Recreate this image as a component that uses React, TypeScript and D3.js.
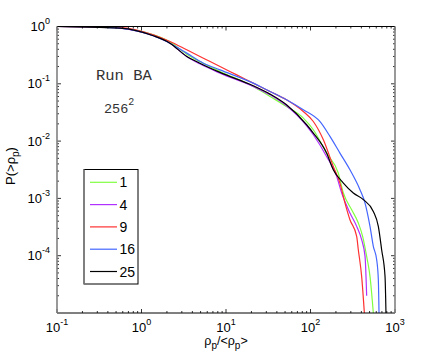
import * as d3 from 'd3'

const W = 436
const H = 354
const margin = { top: 26.5, right: 41, bottom: 41, left: 57 }

const xTicks = [0.1, 1, 10, 100, 1000]
const xTickExps = ['-1', '0', '1', '2', '3']
const yTicks = [1, 0.1, 0.01, 0.001, 0.0001]
const yTickExps = ['0', '-1', '-2', '-3', '-4']

const runNames = ['1', '4', '9', '16', '25']
const runColors = ['#80ff40', '#b030ff', '#ff3030', '#4466ff', '#000000']

// run 1
const x1 = [0.1, 0.32, 0.557, 1.38, 2.17, 3.43, 4.9, 8.49, 21, 33.2, 52, 82.2, 108, 155, 213, 245, 307, 368, 414, 462, 506, 554]
const y1 = [1, 0.99, 0.948, 0.716, 0.54, 0.329, 0.245, 0.164, 0.0898, 0.0601, 0.0402, 0.0252, 0.01577, 0.00618, 0.00277, 0.00124, 0.000634, 0.000372, 0.000217, 0.0000973, 0.0000436, 0.00001]
// run 4
const x4 = [0.1, 0.32, 0.557, 1.38, 2.17, 3.43, 4.9, 8.49, 21, 33.2, 52, 90, 108, 155, 204, 234, 293, 352, 403, 442, 462]
const y4 = [1, 0.98, 0.935, 0.688, 0.512, 0.3, 0.223, 0.1535, 0.0898, 0.0643, 0.0413, 0.0185, 0.0129, 0.0054, 0.00242, 0.00124, 0.000555, 0.000325, 0.00019, 0.0000973, 0.00002]
// run 9
const x9 = [0.1, 0.32, 0.557, 1.38, 2.17, 3.43, 5.4, 8.49, 13.4, 21, 33.2, 52, 82.2, 108, 142, 186, 223, 256, 293, 352, 368, 403, 434]
const y9 = [1, 0.97, 0.96, 0.716, 0.547, 0.392, 0.28, 0.2, 0.143, 0.1027, 0.0733, 0.0526, 0.0329, 0.022, 0.01055, 0.00361, 0.00185, 0.00083, 0.000425, 0.000217, 0.000127, 0.0000436, 0.00001]
// run 16
const x16 = [0.1, 0.32, 0.557, 1.38, 2.17, 3.43, 5.4, 8.49, 21, 33.2, 52, 82.2, 129, 170, 223, 293, 385, 442, 506, 554, 607, 635, 647]
const y16 = [1, 0.97, 0.935, 0.688, 0.512, 0.343, 0.229, 0.175, 0.1027, 0.0735, 0.0526, 0.0352, 0.022, 0.01206, 0.00618, 0.00316, 0.00142, 0.00083, 0.000325, 0.000146, 0.0000851, 0.0000381, 0.00001]
// run 25
const x25 = [0.1, 0.32, 0.557, 1.38, 2.17, 3.43, 4.9, 8.49, 21, 33.2, 52, 90, 108, 155, 186, 245, 321, 422, 554, 635, 695, 762, 782]
const y25 = [1, 0.96, 0.935, 0.688, 0.512, 0.3, 0.229, 0.158, 0.0923, 0.066, 0.043, 0.0193, 0.0138, 0.00618, 0.00316, 0.00185, 0.00124, 0.00095, 0.000593, 0.000325, 0.000127, 0.0000436, 0.00001]

const runsX = [x1, x4, x9, x16, x25]
const runsY = [y1, y4, y9, y16, y25]

const App = () => {
  const x = d3.scaleLog().domain([0.1, 1000]).range([margin.left, W - margin.right])
  const y = d3.scaleLog().domain([1e-5, 1]).range([H - margin.bottom, margin.top])

  const line = d3.line<[number, number]>()
    .x((d) => x(d[0]))
    .y((d) => y(d[1]))
    .curve(d3.curveMonotoneX)

  const x0 = margin.left
  const x1p = W - margin.right
  const y0 = margin.top
  const y1p = H - margin.bottom

  // minor ticks 2..9 within each decade
  const minorX: number[] = []
  for (let e = -1; e < 3; e++) for (let k = 2; k < 10; k++) minorX.push(k * Math.pow(10, e))
  const minorY: number[] = []
  for (let e = -5; e < 0; e++) for (let k = 2; k < 10; k++) minorY.push(k * Math.pow(10, e))

  const font = '"Liberation Sans", Arial, sans-serif'
  const mono = '"Liberation Mono", "Courier New", monospace'

  return (
    <svg width={W} height={H} style={{ position: 'absolute', left: 0, top: 0, background: '#fff' }}>
      <rect x={0} y={0} width={W} height={H} fill="#fff" />

      <defs>
        <clipPath id="plotclip">
          <rect x={x0} y={y0} width={x1p - x0} height={y1p - y0} />
        </clipPath>
      </defs>
      <g clipPath="url(#plotclip)">
        {runsX.map((xs, i) => (
          <path
            key={runNames[i]}
            d={line(xs.map((v, j) => [v, runsY[i][j]] as [number, number])) || ''}
            fill="none"
            stroke={runColors[i]}
            strokeWidth={1.2}
          />
        ))}
      </g>

      {/* ticks */}
      <g stroke="#000" strokeWidth={0.8}>
        {minorX.map((v) => (
          <g key={'mx' + v}>
            <line x1={x(v)} x2={x(v)} y1={y1p} y2={y1p - 2} />
            <line x1={x(v)} x2={x(v)} y1={y0} y2={y0 + 2} />
          </g>
        ))}
        {xTicks.map((v) => (
          <g key={'Mx' + v}>
            <line x1={x(v)} x2={x(v)} y1={y1p} y2={y1p - 4} />
            <line x1={x(v)} x2={x(v)} y1={y0} y2={y0 + 4} />
          </g>
        ))}
        {minorY.map((v) => (
          <g key={'my' + v}>
            <line x1={x0} x2={x0 + 2} y1={y(v)} y2={y(v)} />
            <line x1={x1p} x2={x1p - 2} y1={y(v)} y2={y(v)} />
          </g>
        ))}
        {yTicks.map((v) => (
          <g key={'My' + v}>
            <line x1={x0} x2={x0 + 4} y1={y(v)} y2={y(v)} />
            <line x1={x1p} x2={x1p - 4} y1={y(v)} y2={y(v)} />
          </g>
        ))}
      </g>

      {/* frame */}
      <line x1={x0} x2={x1p} y1={y0} y2={y0} stroke="#000" strokeWidth={1} />
      <line x1={x0} x2={x1p} y1={y1p} y2={y1p} stroke="#000" strokeWidth={1} />
      <line x1={x0} x2={x0} y1={y0} y2={y1p} stroke="#808080" strokeWidth={1.6} />
      <line x1={x1p} x2={x1p} y1={y0} y2={y1p} stroke="#808080" strokeWidth={1.6} />

      {/* tick labels */}
      <g fontFamily={font} fill="#000">
        {xTicks.map((v, i) => (
          <text key={'lx' + v} x={x(v)} y={332} fontSize={13} textAnchor="middle">
            10<tspan fontSize={9} dy={-7}>{xTickExps[i]}</tspan>
          </text>
        ))}
        {yTicks.map((v, i) => (
          <text key={'ly' + v} x={50} y={y(v) + 4.5} fontSize={13} textAnchor="end">
            10<tspan fontSize={9} dy={-7}>{yTickExps[i]}</tspan>
          </text>
        ))}
      </g>

      {/* axis titles */}
      <text x={226} y={344.5} fontFamily={font} fontSize={12.5} textAnchor="middle">
        ρ<tspan fontSize={10} dy={4}>p</tspan>
        <tspan dy={-4}>/&lt;ρ</tspan>
        <tspan fontSize={10} dy={4}>p</tspan>
        <tspan dy={-4}>&gt;</tspan>
      </text>
      <text transform="translate(15,166) rotate(-90)" fontFamily={font} fontSize={13} textAnchor="middle">
        P(&gt;ρ<tspan fontSize={10} dy={4}>p</tspan>
        <tspan dy={-4}>)</tspan>
      </text>

      {/* annotations */}
      <text x={96} y={80} fontFamily={mono} fontSize={15.5} fill="#333">
        Run BA
      </text>
      <text x={104} y={113} fontFamily={mono} fontSize={13.5} fill="#333">
        256<tspan fontSize={10} dy={-8}>2</tspan>
      </text>

      {/* legend */}
      <g>
        <rect x={84} y={169.5} width={54} height={114.5} fill="#fff" stroke="#000" strokeWidth={1} />
        <line x1={84} x2={84} y1={169.5} y2={284} stroke="#808080" strokeWidth={1.6} />
        {runNames.map((name, i) => {
          const ry = 182.3 + i * 22.3
          return (
            <g key={'lg' + name}>
              <line x1={90} x2={117} y1={ry} y2={ry} stroke={runColors[i]} strokeWidth={1.2} />
              <text x={119.5} y={ry + 5} fontFamily={font} fontSize={14}>
                {name}
              </text>
            </g>
          )
        })}
      </g>
    </svg>
  )
}

export default App
